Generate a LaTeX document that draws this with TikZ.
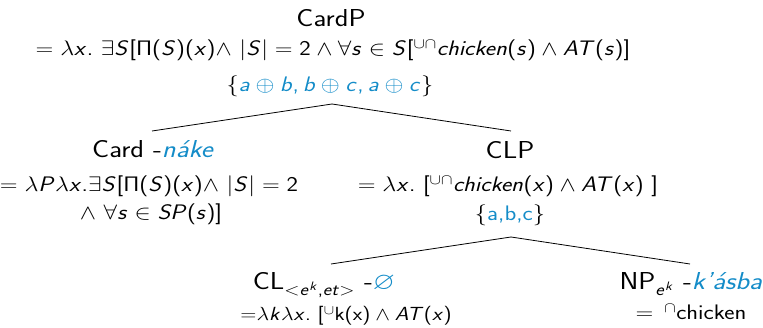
\documentclass[tikz,border=0pt]{standalone}
\usepackage{fix-cm}
\usepackage{graphicx}
\usepackage{amssymb}
\DeclareSymbolFont{sletters}{OT1}{cmss}{m}{sl}
\DeclareSymbolFont{supright}{OT1}{cmss}{m}{n}
\DeclareMathSymbol{a}{\mathalpha}{sletters}{`a}
\DeclareMathSymbol{b}{\mathalpha}{sletters}{`b}
\DeclareMathSymbol{c}{\mathalpha}{sletters}{`c}
\DeclareMathSymbol{e}{\mathalpha}{sletters}{`e}
\DeclareMathSymbol{h}{\mathalpha}{sletters}{`h}
\DeclareMathSymbol{i}{\mathalpha}{sletters}{`i}
\DeclareMathSymbol{k}{\mathalpha}{sletters}{`k}
\DeclareMathSymbol{n}{\mathalpha}{sletters}{`n}
\DeclareMathSymbol{s}{\mathalpha}{sletters}{`s}
\DeclareMathSymbol{t}{\mathalpha}{sletters}{`t}
\DeclareMathSymbol{x}{\mathalpha}{sletters}{`x}
\DeclareMathSymbol{A}{\mathalpha}{sletters}{`A}
\DeclareMathSymbol{P}{\mathalpha}{sletters}{`P}
\DeclareMathSymbol{S}{\mathalpha}{sletters}{`S}
\DeclareMathSymbol{T}{\mathalpha}{sletters}{`T}
\DeclareMathSymbol{2}{\mathalpha}{supright}{`2}
\DeclareMathSymbol{(}{\mathopen}{supright}{`(}
\DeclareMathSymbol{)}{\mathclose}{supright}{`)}
\DeclareMathSymbol{[}{\mathopen}{supright}{`[}
\DeclareMathSymbol{]}{\mathclose}{supright}{`]}
\DeclareMathSymbol{=}{\mathrel}{supright}{`=}
\DeclareMathSymbol{,}{\mathpunct}{supright}{`,}
\DeclareMathSymbol{.}{\mathord}{supright}{`.}
\DeclareMathSymbol{\sPi}{\mathalpha}{supright}{"05}
\newcommand\sx[1]{\scalebox{1.16}[1]{#1}}
\definecolor{blu}{RGB}{20,140,200}
\begin{document}
\begin{tikzpicture}[x=1pt,y=-1pt,
  lbl/.style={font=\sffamily\fontsize{24.5}{28}\selectfont, inner sep=0pt, anchor=base},
  sem/.style={font=\sffamily\fontsize{21}{24}\selectfont, inner sep=0pt, anchor=base},
  edge/.style={draw, line width=0.8pt}]
\useasboundingbox (0,0) rectangle (763,328);
% CardP
\node[lbl] (cardp) at (331,27) {\sx{CardP}};
\node[sem] (cardpsem) at (333,56) {\sx{$=\lambda x.\ \exists S[\sPi(S)(x){\wedge}\ |S|=2\wedge\forall s\in S[{}^{\cup\cap}chicken(s)\wedge AT(s)]$}};
\node[sem] (cardpden) at (330,92) {\sx{$\{\textcolor{blu}{a\oplus b, b\oplus c, a\oplus c}\}$}};
\coordinate (t1) at (332,104);
% Card
\node[lbl] (card) at (153,158) {\sx{Card -\textcolor{blu}{\textit{n\'ake}}}};
\node[sem] (cardsem1) at (149,192) {\sx{$=\lambda P\lambda x.\exists S[\sPi(S)(x){\wedge}\ |S|=2$}};
\node[sem] (cardsem2) at (151,220) {\sx{$\wedge\ \forall s\in SP(s)]$}};
% CLP
\node[lbl] (clp) at (510,159) {\sx{CLP}};
\node[sem] (clpsem) at (508,192) {\sx{$=\lambda x.\ [{}^{\cup\cap}chicken(x)\wedge AT(x)\ ]$}};
\node[sem] (clpden) at (510,221) {\sx{$\{$\textcolor{blu}{a,b,c}$\}$}};
\coordinate (t2) at (511,237);
% CL
\node[lbl] (cl) at (324,290) {\sx{CL$_{<e^k,et>}$ -\textcolor{blu}{$\varnothing$}}};
\node[sem, font=\sffamily\fontsize{19}{22}\selectfont] (clsem) at (346,321) {\sx{${=}\lambda k\lambda x.\ [{}^{\cup}\textup{k(x)}\wedge AT(x)$}};
% NP
\node[lbl] (np) at (691,290) {\sx{NP$_{e^k}$ -\textcolor{blu}{\textit{k'\'asba}}}};
\node[sem] (npsem) at (691,320) {\sx{$=\,{}^{\cap}$chicken}};
% edges
\coordinate (e1) at (152,131);
\coordinate (e2) at (511,131);
\coordinate (e3) at (331,264);
\coordinate (e4) at (690,264);
\draw[edge] (t1) -- (e1);
\draw[edge] (t1) -- (e2);
\draw[edge] (t2) -- (e3);
\draw[edge] (t2) -- (e4);
\end{tikzpicture}
\end{document}
